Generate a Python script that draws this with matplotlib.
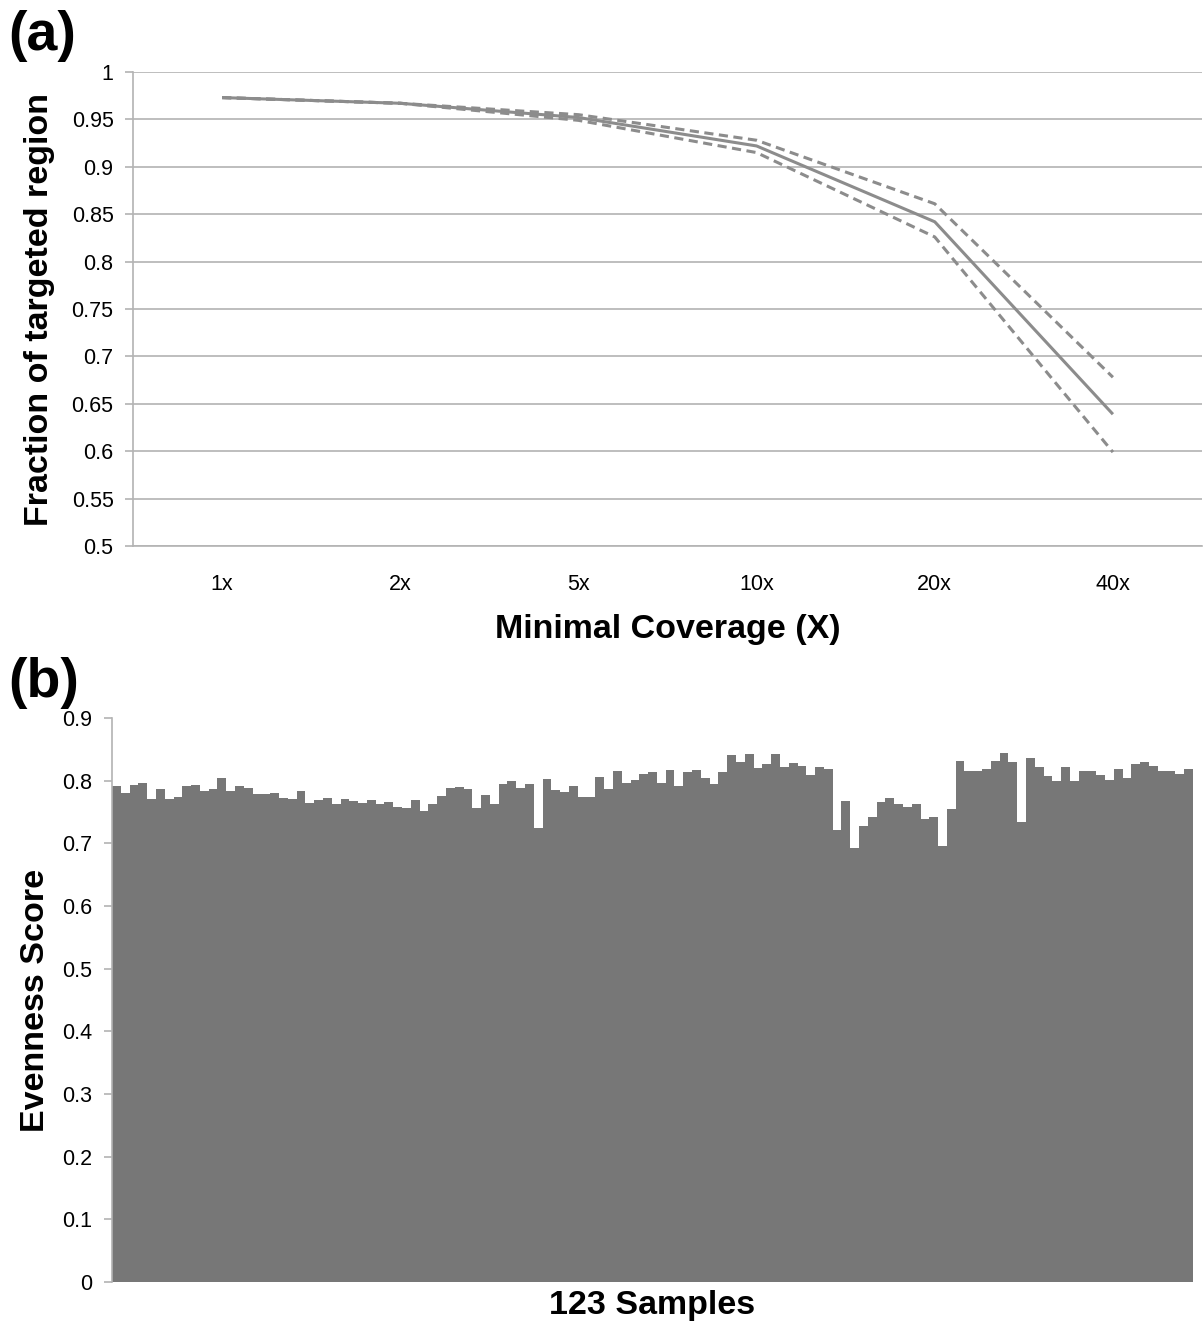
import matplotlib
matplotlib.use("Agg")
import matplotlib.pyplot as plt
import numpy as np

plt.rcParams['font.family'] = ['Liberation Sans', 'DejaVu Sans']

# ---- Panel (a) data ----
coverage_labels = ["1x", "2x", "5x", "10x", "20x", "40x"]
mean_fraction = [0.973, 0.967, 0.952, 0.922, 0.842, 0.639]
upper_fraction = [0.973, 0.967, 0.955, 0.928, 0.861, 0.678]
lower_fraction = [0.973, 0.967, 0.949, 0.915, 0.826, 0.599]
yticks_a = [0.5, 0.55, 0.6, 0.65, 0.7, 0.75, 0.8, 0.85, 0.9, 0.95, 1.0]
ytick_labels_a = ["0.5", "0.55", "0.6", "0.65", "0.7", "0.75", "0.8", "0.85", "0.9", "0.95", "1"]

# ---- Panel (b) data ----
evenness = [
    0.792, 0.780, 0.793, 0.797, 0.770, 0.787, 0.771, 0.774, 0.791, 0.793,
    0.784, 0.786, 0.804, 0.783, 0.791, 0.789, 0.778, 0.778, 0.781, 0.772,
    0.771, 0.784, 0.764, 0.769, 0.773, 0.763, 0.771, 0.768, 0.765, 0.769,
    0.763, 0.766, 0.758, 0.757, 0.769, 0.751, 0.762, 0.775, 0.788, 0.790,
    0.786, 0.756, 0.777, 0.763, 0.795, 0.800, 0.789, 0.795, 0.724, 0.803,
    0.785, 0.782, 0.791, 0.774, 0.774, 0.806, 0.786, 0.815, 0.797, 0.801,
    0.811, 0.814, 0.797, 0.817, 0.791, 0.814, 0.817, 0.805, 0.794, 0.814,
    0.841, 0.830, 0.843, 0.820, 0.827, 0.843, 0.822, 0.828, 0.824, 0.809,
    0.822, 0.819, 0.721, 0.768, 0.693, 0.728, 0.742, 0.766, 0.772, 0.763,
    0.758, 0.763, 0.739, 0.742, 0.696, 0.755, 0.832, 0.816, 0.815, 0.819,
    0.831, 0.844, 0.829, 0.734, 0.836, 0.822, 0.807, 0.799, 0.822, 0.799,
    0.816, 0.815, 0.809, 0.801, 0.819, 0.805, 0.827, 0.830, 0.823, 0.816,
    0.815, 0.810, 0.818,
]
yticks_b = [0, 0.1, 0.2, 0.3, 0.4, 0.5, 0.6, 0.7, 0.8, 0.9]
ytick_labels_b = ["0", "0.1", "0.2", "0.3", "0.4", "0.5", "0.6", "0.7", "0.8", "0.9"]

W, H = 1204, 1326
fig = plt.figure(figsize=(W / 100, H / 100), dpi=100)

axis_gray = "#b3b3b3"
line_gray = "#8c8c8c"

# ---- Panel (a) ----
ax1 = fig.add_axes([133 / W, 1 - 546 / H, 1069 / W, (546 - 72) / H])
x = np.arange(len(coverage_labels))
ax1.plot(x, mean_fraction, color=line_gray, lw=2.2, solid_capstyle='butt')
ax1.plot(x, upper_fraction, color=line_gray, lw=2.2, ls=(0, (3, 1.8)))
ax1.plot(x, lower_fraction, color=line_gray, lw=2.2, ls=(0, (3, 1.8)))
ax1.set_xlim(-0.5, len(coverage_labels) - 0.5)
ax1.set_ylim(0.5, 1.0)
ax1.set_yticks(yticks_a)
ax1.set_yticklabels(ytick_labels_a)
ax1.set_xticks(x)
ax1.set_xticklabels(coverage_labels)
ax1.yaxis.grid(True, color=axis_gray, lw=1.2)
ax1.set_axisbelow(True)
for s in ["top", "right"]:
    ax1.spines[s].set_visible(False)
ax1.spines["left"].set_color(axis_gray)
ax1.spines["left"].set_linewidth(1.2)
ax1.spines["bottom"].set_color(axis_gray)
ax1.spines["bottom"].set_linewidth(1.2)
ax1.tick_params(axis='y', length=6, width=1.2, color=axis_gray, labelsize=15.5, pad=8)
ax1.tick_params(axis='x', length=0, labelsize=15.5, pad=20)
ax1.set_xlabel("Minimal Coverage (X)", fontsize=24.5, fontweight='bold', labelpad=14)
ax1.set_ylabel("Fraction of targeted region", fontsize=24.5, fontweight='bold', labelpad=12)
fig.text(8 / W, 1 - 36 / H, "(a)", fontsize=40, fontweight='bold', va='center', ha='left')

# ---- Panel (b) ----
ax2 = fig.add_axes([112 / W, 1 - 1282 / H, 1081 / W, (1282 - 718) / H])
xb = np.arange(len(evenness))
ax2.bar(xb, evenness, width=1.0, color="#777777", edgecolor='none')
ax2.set_xlim(-0.5, len(evenness) - 0.5)
ax2.set_ylim(0, 0.9)
ax2.set_yticks(yticks_b)
ax2.set_yticklabels(ytick_labels_b)
ax2.set_xticks([])
for s in ["top", "right", "bottom"]:
    ax2.spines[s].set_visible(False)
ax2.spines["left"].set_color(axis_gray)
ax2.spines["left"].set_linewidth(1.2)
ax2.tick_params(axis='y', length=6, width=1.2, color=axis_gray, labelsize=15.5, pad=8)
ax2.set_xlabel("123 Samples", fontsize=24.5, fontweight='bold', labelpad=6)
ax2.set_ylabel("Evenness Score", fontsize=24.5, fontweight='bold', labelpad=8)
fig.text(8 / W, 1 - 683 / H, "(b)", fontsize=40, fontweight='bold', va='center', ha='left')

fig.savefig("out.png", dpi=100)
